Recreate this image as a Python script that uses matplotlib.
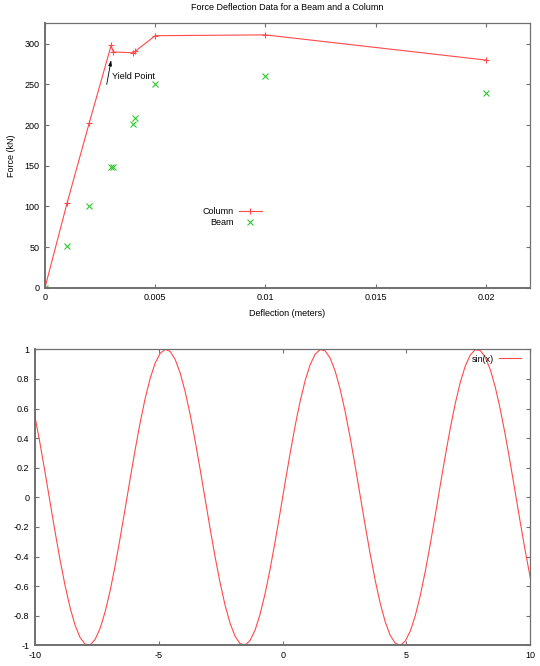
import numpy as np
import matplotlib
matplotlib.use("Agg")
import matplotlib.pyplot as plt

plt.rcParams['font.family'] = ['Liberation Sans', 'DejaVu Sans']
plt.rcParams['font.size'] = 6.5
plt.rcParams['axes.unicode_minus'] = False

# Data
deflection = [0.000, 0.001, 0.002, 0.003, 0.0031, 0.004, 0.0041, 0.005, 0.010, 0.020]
column_force = [0, 104, 202, 298, 290, 289, 291, 310, 311, 280]
beam_force = [0, 51, 101, 148, 149, 201, 209, 250, 260, 240]

top_xticks = [0, 0.005, 0.01, 0.015, 0.02]
top_xticklabels = ["0", "0.005", "0.01", "0.015", "0.02"]
top_yticks = [0, 50, 100, 150, 200, 250, 300]

arrow_from = (0.0028, 250)
arrow_to = (0.003, 280)
label_pos = (0.003, 260)

sin_x = np.linspace(-10, 10, 100)
sin_y = np.sin(sin_x)
bot_xticks = [-10, -5, 0, 5, 10]
bot_xticklabels = ["-10", "-5", "0", "5", "10"]
bot_yticks = [-1, -0.8, -0.6, -0.4, -0.2, 0, 0.2, 0.4, 0.6, 0.8, 1]
bot_yticklabels = ["-1", "-0.8", "-0.6", "-0.4", "-0.2", "0", "0.2", "0.4", "0.6", "0.8", "1"]

W, H = 540, 666
fig = plt.figure(figsize=(W / 100, H / 100), dpi=100)

RED = '#ff4a4a'
GREEN = '#30c830'
BORDER = '#707070'


def px_axes(l, t, r, b):
    return fig.add_axes([l / W, 1 - b / H, (r - l) / W, (b - t) / H])


def style(ax):
    for side, sp in ax.spines.items():
        sp.set_color(BORDER)
        sp.set_linewidth(1.4 if side in ('left', 'bottom') else 0.9)
    ax.tick_params(direction='in', length=3, width=0.8, color=BORDER,
                   top=True, right=True, labelsize=6.5, pad=4, labelcolor='black')


# Top plot
ax1 = px_axes(45, 23.5, 530, 287.7)
ax1.plot(deflection, column_force, color=RED, lw=0.8, marker='+', ms=4.5,
         mew=0.8, label='Column')
ax1.plot(deflection, beam_force, color=GREEN, lw=0, marker='x', ms=3.8,
         mew=0.8, label='Beam')
ax1.set_xlim(0, 0.022)
ax1.set_ylim(0, 325)
ax1.set_xticks(top_xticks)
ax1.set_xticklabels(top_xticklabels)
ax1.set_yticks(top_yticks)
style(ax1)
ax1.set_title("Force Deflection Data for a Beam and a Column", fontsize=6.5, pad=9.5)
ax1.set_xlabel("Deflection (meters)", fontsize=6.5, labelpad=5)
ax1.set_ylabel("Force (kN)", fontsize=6.5, labelpad=6)
ax1.annotate("", xy=arrow_to, xytext=arrow_from,
             arrowprops=dict(arrowstyle='-|>,head_length=0.5,head_width=0.15',
                             color='black', lw=0.6, shrinkA=0, shrinkB=0))
ax1.text(label_pos[0] + 0.00005, label_pos[1], "Yield Point", ha='left', va='center',
         fontsize=6.5)
ax1.legend(loc='center right', bbox_to_anchor=(262 / W, 1 - 217 / H),
           bbox_transform=fig.transFigure, frameon=False, markerfirst=False,
           handlelength=2.6, handletextpad=0.5, labelspacing=0.15,
           borderpad=0, borderaxespad=0, fontsize=6.5)

# Bottom plot
ax2 = px_axes(35, 349.3, 530.3, 645.3)
ax2.plot(sin_x, sin_y, color=RED, lw=0.8, label='sin(x)')
ax2.set_xlim(-10, 10)
ax2.set_ylim(-1, 1)
ax2.set_xticks(bot_xticks)
ax2.set_xticklabels(bot_xticklabels)
ax2.set_yticks(bot_yticks)
ax2.set_yticklabels(bot_yticklabels)
style(ax2)
ax2.legend(loc='center right', bbox_to_anchor=(521 / W, 1 - 359 / H),
           bbox_transform=fig.transFigure, frameon=False, markerfirst=False,
           handlelength=2.4, handletextpad=0.6, borderpad=0, borderaxespad=0,
           fontsize=6.5)

fig.savefig("out.png", dpi=100)
